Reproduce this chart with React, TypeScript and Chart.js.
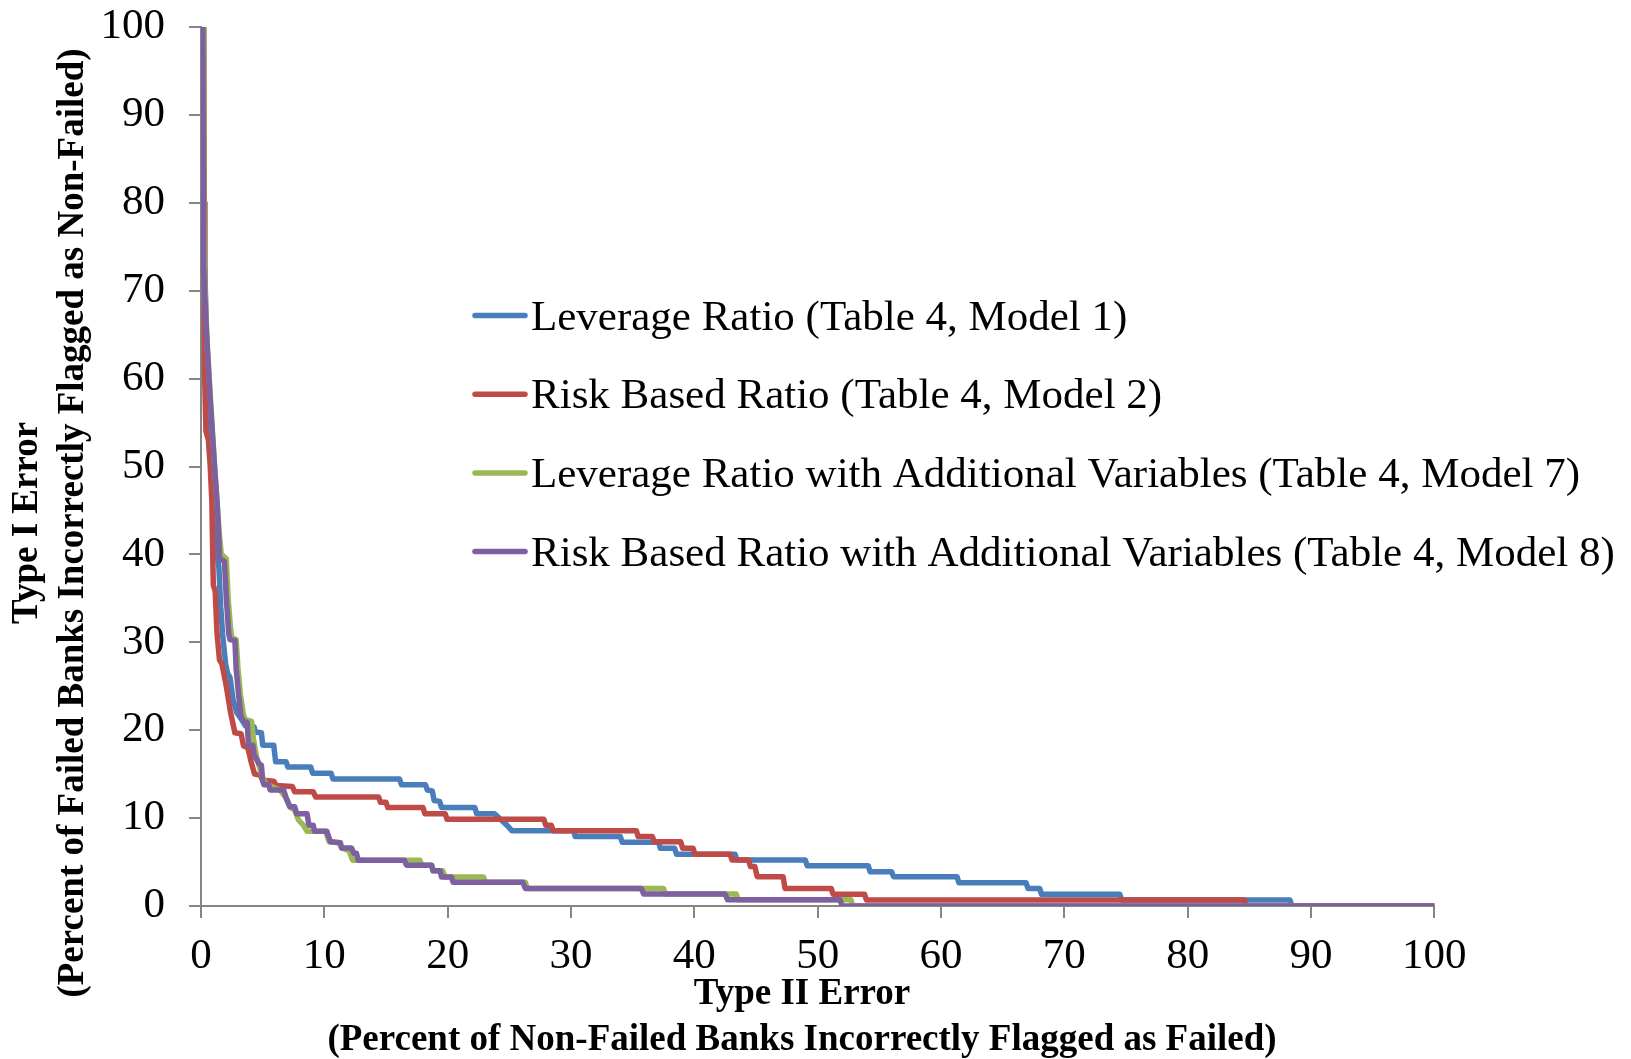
import React, { useEffect, useRef } from "react";
import { Chart, registerables } from "chart.js";

Chart.register(...registerables);

// ---------- data ----------
const seriesNames = [
  "Leverage Ratio (Table 4, Model 1)",
  "Risk Based Ratio (Table 4, Model 2)",
  "Leverage Ratio with Additional Variables (Table 4, Model 7)",
  "Risk Based Ratio with Additional Variables (Table 4, Model 8)",
];
const seriesColors = ["#4A7EBB", "#BE4B48", "#98B954", "#7D60A0"];

const xTitleLines = ["Type II Error", "(Percent of Non-Failed Banks Incorrectly Flagged as Failed)"];
const yTitleLines = ["Type I Error", "(Percent of Failed Banks Incorrectly Flagged as Non-Failed)"];

const axisMin = 0;
const axisMax = 100;
const axisStep = 10;

// Model 1 (blue)
const model1X = [0.2, 0.25, 0.3, 0.5, 0.7, 0.9, 1.05, 1.3, 1.45, 1.6, 1.75, 1.85, 2.0, 2.15, 2.35, 2.6, 2.9, 3.3, 3.6, 4.3, 4.4, 4.9, 5.0, 5.9, 6.05, 6.9, 7.05, 8.9, 9.05, 10.55, 10.7, 16.1, 16.25, 18.2, 18.35, 18.75, 18.9, 19.35, 19.5, 22.2, 22.35, 23.8, 24.8, 25.2, 30.2, 30.35, 34.0, 34.15, 37.1, 37.25, 38.4, 38.55, 43.3, 43.45, 49.0, 49.15, 54.1, 54.25, 56.0, 56.15, 61.3, 61.45, 66.9, 67.05, 68.0, 68.15, 74.5, 74.65, 88.3, 88.45, 100];
const model1Y = [100, 80, 73, 62, 54, 48, 44, 40, 38.5, 34, 31, 29.5, 27.5, 26.5, 26.0, 23.5, 22, 21.2, 20.5, 20.4, 19.8, 19.7, 18.3, 18.3, 16.4, 16.4, 15.8, 15.8, 15.1, 15.1, 14.45, 14.45, 13.8, 13.8, 13.2, 13.1, 12.0, 11.9, 11.2, 11.2, 10.5, 10.5, 9.2, 8.57, 8.57, 7.9, 7.9, 7.25, 7.25, 6.56, 6.56, 5.9, 5.9, 5.23, 5.23, 4.59, 4.59, 3.9, 3.9, 3.34, 3.34, 2.65, 2.65, 2.0, 2.0, 1.33, 1.33, 0.68, 0.68, 0, 0];

// Model 2 (red)
const model2X = [0.22, 0.25, 0.3, 0.4, 0.6, 0.75, 0.88, 0.95, 1.0, 1.15, 1.3, 1.5, 1.7, 2.05, 2.4, 2.75, 3.25, 3.45, 3.8, 4.1, 4.35, 4.8, 5.0, 5.9, 6.1, 7.4, 7.6, 9.1, 9.3, 14.4, 14.55, 15.0, 15.15, 18.0, 18.15, 19.8, 19.95, 27.8, 27.95, 28.4, 28.55, 35.3, 35.45, 36.6, 36.75, 38.9, 39.05, 39.9, 40.05, 42.9, 43.05, 44.4, 44.55, 44.9, 45.1, 47.2, 47.35, 51.1, 51.25, 53.8, 53.95, 84.6, 84.75, 100];
const model2Y = [100, 80, 60, 54, 53, 50, 46, 40, 36.5, 35.8, 31, 28, 27.5, 25, 22, 19.7, 19.6, 18.2, 18.0, 16.2, 15.0, 14.9, 14.3, 14.2, 13.7, 13.6, 13.0, 13.0, 12.4, 12.4, 11.8, 11.8, 11.2, 11.2, 10.5, 10.5, 9.86, 9.86, 9.2, 9.2, 8.57, 8.57, 7.9, 7.9, 7.3, 7.3, 6.56, 6.56, 5.9, 5.9, 5.23, 5.23, 4.5, 4.5, 3.34, 3.34, 2.0, 2.0, 1.35, 1.35, 0.68, 0.68, 0, 0];

// Model 7 (green)
const model7X = [0.2, 0.22, 0.25, 0.5, 0.8, 1.1, 1.3, 1.5, 1.65, 2.05, 2.2, 2.4, 2.5, 2.85, 3.0, 3.2, 3.45, 3.6, 4.1, 4.25, 4.5, 4.8, 5.0, 5.3, 5.7, 6.4, 6.9, 7.2, 7.6, 7.9, 8.3, 8.6, 10.1, 10.4, 11.2, 11.4, 12.0, 12.3, 17.75, 17.9, 18.7, 18.85, 19.6, 19.8, 22.9, 23.05, 26.3, 26.45, 37.5, 37.65, 43.4, 43.55, 52.7, 52.85, 100];
const model7Y = [100, 80, 73, 64, 57, 50, 46, 42, 40, 39.5, 35, 31.5, 30.5, 30.3, 27, 24, 21.7, 21.2, 21, 19, 17, 15.5, 14.6, 13.8, 13.6, 13.2, 12.3, 11.3, 10.9, 9.8, 9.2, 8.5, 8.5, 7.3, 7.2, 6.6, 6.3, 5.2, 5.2, 4.65, 4.65, 4.0, 4.0, 3.3, 3.3, 2.7, 2.7, 2.0, 2.0, 1.36, 1.36, 0.7, 0.7, 0, 0];

// Model 8 (purple)
const model8X = [0.15, 0.2, 0.45, 0.75, 1.1, 1.3, 1.45, 1.5, 1.9, 2.05, 2.25, 2.35, 2.75, 2.85, 3.05, 3.25, 3.5, 3.75, 3.85, 4.2, 4.3, 4.7, 4.9, 5.0, 5.1, 5.5, 5.6, 6.7, 6.9, 7.2, 7.6, 7.75, 8.6, 8.75, 9.1, 9.2, 10.2, 10.5, 11.3, 11.4, 12.2, 12.4, 12.6, 12.75, 16.5, 16.65, 18.7, 18.8, 19.4, 19.5, 20.3, 20.45, 26.1, 26.3, 35.7, 35.9, 42.5, 42.7, 51.8, 52.0, 100];
const model8Y = [100, 73, 65, 57.5, 50, 46, 42, 39.5, 39.2, 35, 31, 30.3, 30.2, 27, 24, 21.5, 21, 20.9, 18.3, 18.3, 17.2, 16.2, 16.0, 14.2, 13.8, 13.8, 13.2, 13.2, 12.3, 11.3, 11.3, 10.5, 10.5, 9.2, 9.2, 8.5, 8.5, 7.3, 7.2, 6.6, 6.6, 6.0, 6.0, 5.2, 5.2, 4.65, 4.65, 4.0, 4.0, 3.3, 3.3, 2.7, 2.7, 2.0, 2.0, 1.36, 1.36, 0.7, 0.7, 0, 0];

const seriesX = [model1X, model2X, model7X, model8X];
const seriesY = [model1Y, model2Y, model7Y, model8Y];

// ---------- layout constants ----------
const W = 1631;
const H = 1059;
const FONT = '"Liberation Serif", "Times New Roman", serif';
const AXIS_GRAY = "#868686";

function toPoints(xs: number[], ys: number[]) {
  const n = Math.min(xs.length, ys.length);
  const pts: { x: number; y: number }[] = [];
  for (let i = 0; i < n; i++) pts.push({ x: xs[i], y: ys[i] });
  return pts;
}

const overlayPlugin = {
  id: "overlayText",
  afterDraw(chart: any) {
    const ctx = chart.ctx as CanvasRenderingContext2D;
    ctx.save();
    // legend inside plot
    const rowY0 = 315.5;
    const rowGap = 78.7;
    seriesNames.forEach((name, i) => {
      const y = rowY0 + i * rowGap;
      ctx.strokeStyle = seriesColors[i];
      ctx.lineWidth = 5.5;
      ctx.lineCap = "round";
      ctx.beginPath();
      ctx.moveTo(475, y);
      ctx.lineTo(525, y);
      ctx.stroke();
      ctx.fillStyle = "#000";
      ctx.font = `43px ${FONT}`;
      ctx.textAlign = "left";
      ctx.textBaseline = "alphabetic";
      ctx.fillText(name, 531, y + 14);
    });
    // axis titles
    ctx.fillStyle = "#000";
    ctx.font = `bold 37px ${FONT}`;
    ctx.textAlign = "center";
    ctx.textBaseline = "middle";
    xTitleLines.forEach((t, i) => ctx.fillText(t, 802, 994 + i * 46));
    ctx.translate(0, 523);
    ctx.rotate(-Math.PI / 2);
    yTitleLines.forEach((t, i) => ctx.fillText(t, 0, 27.5 + i * 46));
    ctx.restore();
  },
};

export default function App() {
  const canvasRef = useRef<HTMLCanvasElement | null>(null);

  useEffect(() => {
    if (!canvasRef.current) return;
    // draw order: later series on top (purple on top); Chart.js draws index 0 last
    const order = [3, 2, 1, 0];
    const datasets = order.map((i) => ({
      label: seriesNames[i],
      data: toPoints(seriesX[i], seriesY[i]),
      borderColor: seriesColors[i],
      backgroundColor: seriesColors[i],
      borderWidth: 5.5,
      pointRadius: 0,
      pointHoverRadius: 0,
      showLine: true,
      tension: 0,
      borderCapStyle: "round" as const,
      borderJoinStyle: "round" as const,
      fill: false,
    }));

    const tickFont = { family: FONT, size: 43 };

    const chart = new Chart(canvasRef.current, {
      type: "scatter",
      data: { datasets },
      plugins: [overlayPlugin],
      options: {
        animation: false,
        responsive: false,
        devicePixelRatio: 1,
        layout: { padding: { top: 27, right: 196.7, bottom: 0, left: 0 } },
        plugins: {
          legend: { display: false },
          tooltip: { enabled: false },
          title: { display: false },
        },
        scales: {
          x: {
            type: "linear",
            min: axisMin,
            max: axisMax,
            afterFit: (scale: any) => {
              scale.height = 153;
              scale.paddingLeft = 0;
              scale.paddingRight = 0;
            },
            ticks: { stepSize: axisStep, color: "#000", font: tickFont, padding: 13, maxRotation: 0 },
            grid: { display: true, drawOnChartArea: false, drawTicks: true, tickLength: 12, color: AXIS_GRAY, lineWidth: 2 },
            border: { display: true, color: AXIS_GRAY, width: 2 },
          },
          y: {
            type: "linear",
            min: axisMin,
            max: axisMax,
            afterFit: (scale: any) => {
              scale.width = 201;
              scale.paddingTop = 0;
              scale.paddingBottom = 0;
            },
            ticks: { stepSize: axisStep, color: "#000", font: tickFont, padding: 24 },
            grid: { display: true, drawOnChartArea: false, drawTicks: true, tickLength: 12, color: AXIS_GRAY, lineWidth: 2 },
            border: { display: true, color: AXIS_GRAY, width: 2 },
          },
        },
      } as any,
    });
    return () => chart.destroy();
  }, []);

  return (
    <div style={{ position: "absolute", left: 0, top: 0, width: W, height: H, background: "#fff" }}>
      <canvas ref={canvasRef} width={W} height={H} style={{ display: "block" }} />
    </div>
  );
}
